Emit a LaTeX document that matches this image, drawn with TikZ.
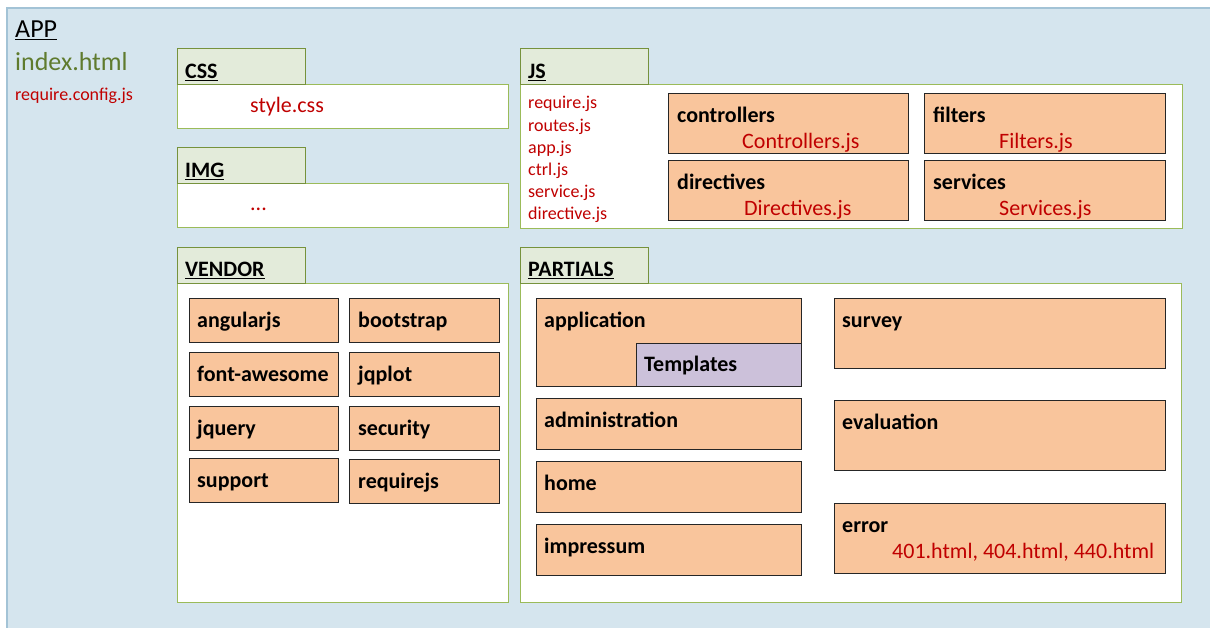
\documentclass[tikz,border=0pt]{standalone}
\usepackage{fontspec}
\setmainfont{Carlito}
\usetikzlibrary{positioning}

\definecolor{appblue}{HTML}{D5E5EE}
\definecolor{appedge}{HTML}{A3C3D6}
\definecolor{tabfill}{HTML}{E3EBDA}
\definecolor{tabedge}{HTML}{76923C}
\definecolor{diredge}{HTML}{9BBB59}
\definecolor{modfill}{HTML}{F9C59C}
\definecolor{tplfill}{HTML}{CCC1DA}
\definecolor{filered}{HTML}{C00000}
\definecolor{indexgreen}{HTML}{5F7B2E}

\begin{document}
\begin{tikzpicture}[x=1pt,y=-1pt,
    tab/.style={draw=tabedge,fill=tabfill,line width=1.2pt,anchor=north west,inner sep=0pt,minimum width=128pt,minimum height=36pt},
    body/.style={draw=diredge,fill=white,line width=1.3pt,anchor=north west,inner sep=0pt},
    module/.style={draw=black!85,fill=modfill,line width=1.4pt,anchor=north west,inner sep=0pt},
    title/.style={anchor=base west,inner sep=0pt,font=\fontsize{22}{26}\selectfont\bfseries},
    file/.style={anchor=base west,inner sep=0pt,text=filered,font=\fontsize{22}{26}\selectfont},
    small/.style={anchor=base west,inner sep=0pt,text=filered,font=\fontsize{18}{22}\selectfont}]

\useasboundingbox (0,0) rectangle (1210,628);
\fill[white] (0,0) rectangle (1210,628);

% app folder
\node[fill=appblue,anchor=north west,inner sep=0pt,minimum width=1206pt,minimum height=623pt] (app) at (7,8) {};
\draw[appedge,line width=2pt] (app.south west) -- (app.north west) -- (app.north east);
\node[anchor=base west,inner sep=0pt,font=\fontsize{26}{30}\selectfont] (apptitle) at (15,38) {\underline{APP}};
\node[anchor=base west,inner sep=0pt,text=indexgreen,font=\fontsize{26}{30}\selectfont] (index) at (15,70.5) {index.html};
\node[small] (config) at (15,100.5) {require.config.js};

% css
\node[body,minimum width=331pt,minimum height=44pt] (cssbody) at (177,84) {};
\node[tab] (csstab) at (177,48) {};
\node[title] (csstitle) at ([shift={(8,30.5)}]csstab.north west) {\underline{CSS}};
\node[file] (stylecss) at ([shift={(73,29)}]cssbody.north west) {style.css};

% img
\node[body,minimum width=331pt,minimum height=44pt] (imgbody) at (177,183) {};
\node[tab] (imgtab) at (177,147) {};
\node[title] (imgtitle) at ([shift={(8,30.5)}]imgtab.north west) {\underline{IMG}};
\node[file] (imgfiles) at ([shift={(73,28)}]imgbody.north west) {...};

% js
\node[body,minimum width=662pt,minimum height=144pt] (jsbody) at (520,84) {};
\node[tab] (jstab) at (520,48) {};
\node[title] (jstitle) at ([shift={(8,30.5)}]jstab.north west) {\underline{JS}};
\foreach \f [count=\i] in {require.js,routes.js,app.js,ctrl.js,service.js,directive.js}
    \node[small] (jsfile\i) at (528,86.8+22.2*\i) {\f};

\node[module,minimum width=240pt,minimum height=60pt] (controllers) at (668,93) {};
\node[title] at ([shift={(9,30)}]controllers.north west) {controllers};
\node[file] at ([shift={(74,56)}]controllers.north west) {Controllers.js};
\node[module,minimum width=241pt,minimum height=60pt] (filters) at (924,93) {};
\node[title] at ([shift={(9,30)}]filters.north west) {filters};
\node[file] at ([shift={(75,56)}]filters.north west) {Filters.js};
\node[module,minimum width=240pt,minimum height=60pt] (directives) at (668,160) {};
\node[title] at ([shift={(9,30)}]directives.north west) {directives};
\node[file] at ([shift={(76,56)}]directives.north west) {Directives.js};
\node[module,minimum width=241pt,minimum height=60pt] (services) at (924,160) {};
\node[title] at ([shift={(9,30)}]services.north west) {services};
\node[file] at ([shift={(75,56)}]services.north west) {Services.js};

% vendor
\node[body,minimum width=331pt,minimum height=319pt] (vendorbody) at (177,283) {};
\node[tab] (vendortab) at (177,247) {};
\node[title] (vendortitle) at ([shift={(8,29.5)}]vendortab.north west) {\underline{VENDOR}};

\node[module,minimum width=149pt,minimum height=44pt] (angularjs) at (189,298) {};
\node[title] at ([shift={(8,29)}]angularjs.north west) {angularjs};
\node[module,minimum width=150pt,minimum height=44pt] (bootstrap) at (349,298) {};
\node[title] at ([shift={(9,29)}]bootstrap.north west) {bootstrap};
\node[module,minimum width=149pt,minimum height=44pt] (fontawesome) at (189,352) {};
\node[title] at ([shift={(8,29)}]fontawesome.north west) {font-awesome};
\node[module,minimum width=150pt,minimum height=44pt] (jqplot) at (349,352) {};
\node[title] at ([shift={(9,29)}]jqplot.north west) {jqplot};
\node[module,minimum width=149pt,minimum height=44pt] (jquery) at (189,406) {};
\node[title] at ([shift={(8,29)}]jquery.north west) {jquery};
\node[module,minimum width=150pt,minimum height=44pt] (security) at (349,406) {};
\node[title] at ([shift={(9,29)}]security.north west) {security};
\node[module,minimum width=149pt,minimum height=44pt] (support) at (189,458) {};
\node[title] at ([shift={(8,29)}]support.north west) {support};
\node[module,minimum width=150pt,minimum height=44pt] (requirejs) at (349,459) {};
\node[title] at ([shift={(9,29)}]requirejs.north west) {requirejs};

% partials
\node[body,minimum width=661pt,minimum height=319pt] (partialsbody) at (520,283) {};
\node[tab] (partialstab) at (520,247) {};
\node[title] (partialstitle) at ([shift={(8,29.5)}]partialstab.north west) {\underline{PARTIALS}};

\node[module,minimum width=265pt,minimum height=88pt] (application) at (536,298) {};
\node[title] at ([shift={(8,29)}]application.north west) {application};
\node[module,fill=tplfill,minimum width=165pt,minimum height=43pt] (templates) at (636,343) {};
\node[title] at ([shift={(8,28.5)}]templates.north west) {Templates};
\node[module,minimum width=265pt,minimum height=51pt] (administration) at (536,398) {};
\node[title] at ([shift={(8,29)}]administration.north west) {administration};
\node[module,minimum width=265pt,minimum height=51pt] (home) at (536,461) {};
\node[title] at ([shift={(8,29)}]home.north west) {home};
\node[module,minimum width=265pt,minimum height=51pt] (impressum) at (536,524) {};
\node[title] at ([shift={(8,29)}]impressum.north west) {impressum};

\node[module,minimum width=331pt,minimum height=70pt] (survey) at (834,298) {};
\node[title] at ([shift={(8,29.5)}]survey.north west) {survey};
\node[module,minimum width=331pt,minimum height=70pt] (evaluation) at (834,400) {};
\node[title] at ([shift={(8,29)}]evaluation.north west) {evaluation};
\node[module,minimum width=331pt,minimum height=70pt] (error) at (834,503) {};
\node[title] at ([shift={(8,29.5)}]error.north west) {error};
\node[file] at ([shift={(58,55)}]error.north west) {401.html, 404.html, 440.html};
\end{tikzpicture}
\end{document}
